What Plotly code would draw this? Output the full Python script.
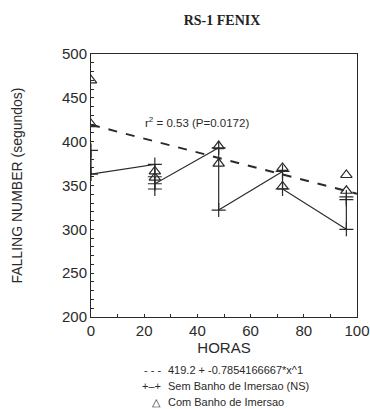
import plotly.graph_objects as go

# Data
sem_x = [0, 0, 24, 24, 24, 24, 48, 48, 72, 72, 96, 96, 96]
sem_y = [390, 363, 374, 360, 346, 352, 393, 322, 366, 346, 300, 334, 337]
com_x = [0, 0, 24, 24, 48, 48, 72, 72, 96, 96]
com_y = [470, 420, 366, 359, 395, 375, 370, 349, 362, 344]
reg_intercept = 419.2
reg_slope = -0.7854166667
reg_x = [0, 100]
reg_y = [reg_intercept + reg_slope * v for v in reg_x]
legend_symbols = ["- - -", "+\u2013+", "\u25b3"]
legend_labels = ["419.2 + -0.7854166667*x^1", "Sem Banho de Imersao (NS)", "Com Banho de Imersao"]

ink = "#2a2a2a"
fig = go.Figure()
fig.add_trace(go.Scatter(x=reg_x, y=reg_y, mode="lines",
                         line=dict(color=ink, width=2, dash="dash"),
                         name=legend_labels[0]))
fig.add_trace(go.Scatter(x=sem_x, y=sem_y, mode="lines+markers",
                         line=dict(color=ink, width=1.2),
                         marker=dict(symbol="cross-thin", size=10, line=dict(color=ink, width=1.2)),
                         name=legend_labels[1]))
fig.add_trace(go.Scatter(x=com_x, y=com_y, mode="markers",
                         marker=dict(symbol="triangle-up-open", size=10, color=ink, line=dict(color=ink, width=1.2)),
                         name=legend_labels[2]))

fig.add_annotation(x=40, y=422, text="r<sup>2</sup> = 0.53 (P=0.0172)", showarrow=False,
                   font=dict(family="Liberation Sans", size=11.5, color=ink))

# text legend below the plot (as in the original)
plot_left, plot_w, plot_bottom, plot_h = 91, 266, 317, 263
leg_rows_px = [370, 386, 402]
for sym, lab, py in zip(legend_symbols, legend_labels, leg_rows_px):
    yp = (plot_bottom - py) / plot_h
    fig.add_annotation(xref="paper", yref="paper", x=(163 - plot_left) / plot_w, y=yp,
                       xanchor="right", yanchor="middle", text=sym, showarrow=False,
                       font=dict(family="Liberation Sans", size=11, color=ink))
    fig.add_annotation(xref="paper", yref="paper", x=(166 - plot_left) / plot_w, y=yp,
                       xanchor="left", yanchor="middle", text=lab, showarrow=False,
                       font=dict(family="Liberation Sans", size=11, color=ink))

axis_common = dict(showline=True, linecolor=ink, linewidth=1, mirror=True,
                   ticks="inside", ticklen=3, tickcolor=ink, showgrid=False, zeroline=False,
                   tickfont=dict(family="Liberation Sans", size=15, color=ink),
                   minor=dict(ticks="inside", ticklen=3, tickcolor=ink, dtick=10))
fig.update_xaxes(range=[0, 100], dtick=20, **axis_common,
                 title=dict(text="HORAS", font=dict(family="Liberation Sans", size=15, color=ink), standoff=3))
fig.update_yaxes(range=[200, 500], dtick=50, **axis_common,
                 title=dict(text="FALLING NUMBER (segundos)", font=dict(family="Liberation Sans", size=14, color=ink), standoff=36))

fig.update_layout(
    width=370, height=409,
    margin=dict(l=91, r=13, t=54, b=92, autoexpand=False),
    paper_bgcolor="white", plot_bgcolor="white",
    title=dict(text="<b>RS-1 FENIX</b>", x=0.6, xanchor="center", y=0.95, yanchor="middle",
               font=dict(family="Liberation Serif", size=14, color="#222")),
    showlegend=False,
)
fig.write_html("out.html")
